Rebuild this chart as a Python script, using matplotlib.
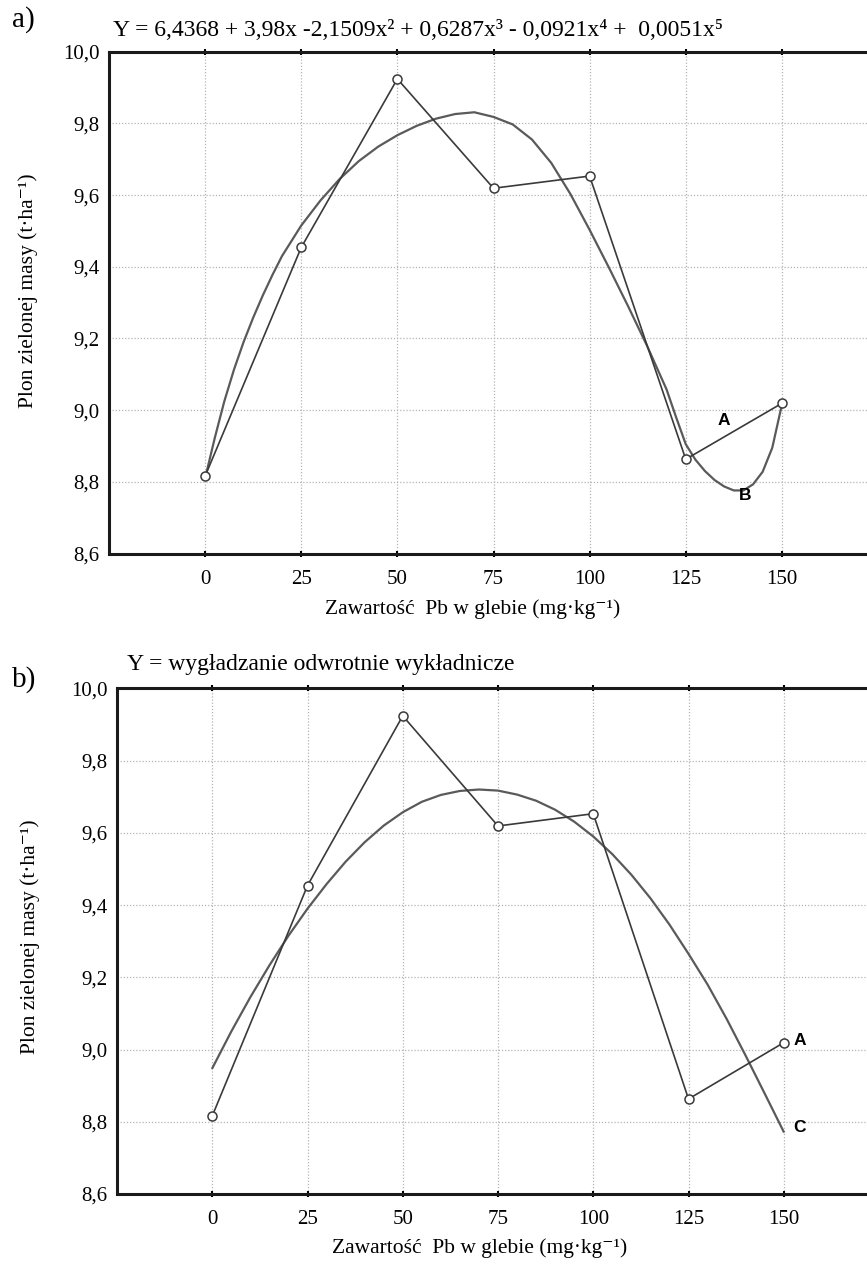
import matplotlib
matplotlib.use("Agg")
import matplotlib.pyplot as plt

plt.rcParams["font.family"] = ["Liberation Serif", "DejaVu Serif"]

# Pb content in soil (mg/kg) and green mass yield (t/ha)
pb = [0, 25, 50, 75, 100, 125, 150]
plon = [8.816, 9.454, 9.924, 9.619, 9.653, 8.863, 9.019]

# 5th order polynomial fit (panel a), sampled along the Pb axis
poly_x = [0, 2.5, 5, 7.5, 10, 12.5, 15, 17.5, 20, 25, 30, 35, 40, 45, 50, 55,
          60, 65, 70, 75, 80, 85, 90, 95, 100, 105, 110, 115, 120, 122.5, 125,
          127.5, 130, 132.5, 135, 137.5, 140, 142.5, 145, 147.5, 150]
poly_y = [8.81, 8.922, 9.025, 9.113, 9.19, 9.258, 9.32, 9.377, 9.43, 9.515,
          9.585, 9.645, 9.695, 9.735, 9.767, 9.793, 9.813, 9.826, 9.831, 9.818,
          9.797, 9.755, 9.69, 9.603, 9.503, 9.398, 9.29, 9.178, 9.058, 8.98,
          8.905, 8.862, 8.83, 8.805, 8.787, 8.776, 8.776, 8.793, 8.828, 8.895,
          9.015]

# negative exponential smoothing (panel b)
smooth_x = [0, 5, 10, 15, 20, 25, 30, 35, 40, 45, 50, 55, 60, 65, 70, 75, 80,
            85, 90, 95, 100, 105, 110, 115, 120, 125, 130, 135, 140, 145, 150]
smooth_y = [8.948, 9.05, 9.145, 9.233, 9.315, 9.39, 9.458, 9.52, 9.574, 9.62,
            9.657, 9.686, 9.705, 9.716, 9.72, 9.717, 9.706, 9.689, 9.664, 9.631,
            9.59, 9.541, 9.484, 9.419, 9.346, 9.265, 9.18, 9.085, 8.983, 8.878,
            8.772]

x_ticks = [0, 25, 50, 75, 100, 125, 150]
y_ticks = [8.6, 8.8, 9.0, 9.2, 9.4, 9.6, 9.8, 10.0]
y_tick_labels = ["8,6", "8,8", "9,0", "9,2", "9,4", "9,6", "9,8", "10,0"]

LINE_COLOR = "#3a3a3a"
CURVE_COLOR = "#5a5a5a"
TICK_FS = 15
LABEL_FS = 15.5
TITLE_FS = 17

YLABEL = "Plon zielonej masy (t·ha⁻¹)"
XLABEL = "Zawartość  Pb w glebie (mg·kg⁻¹)"


def style_axes(ax):
    ax.set_xlim(-25, 175)
    ax.set_ylim(8.6, 10.0)
    ax.set_xticks(x_ticks)
    ax.set_xticklabels([str(t) for t in x_ticks], fontsize=TICK_FS)
    ax.set_yticks(y_ticks)
    ax.set_yticklabels(y_tick_labels, fontsize=TICK_FS)
    ax.grid(True, color="#b5b5b5", linestyle=(0, (1, 1.5)), linewidth=0.9)
    ax.set_axisbelow(True)
    for side in ("left", "top", "bottom"):
        ax.spines[side].set_linewidth(2.2)
        ax.spines[side].set_color("#1a1a1a")
    ax.spines["right"].set_visible(False)
    ax.tick_params(axis="x", direction="inout", length=5, width=1.5, pad=9,
                   top=True, labeltop=False)
    ax.tick_params(axis="y", length=0, pad=7)


def draw_curve(ax, xs, ys):
    ax.plot(xs, ys, color=CURVE_COLOR, lw=1.6, zorder=2,
            solid_joinstyle="round", solid_capstyle="round")


def draw_points(ax):
    ax.plot(pb, plon, color=LINE_COLOR, lw=1.2, marker="o", ms=6.5,
            mfc="white", mec=LINE_COLOR, mew=1.1, zorder=3)


def tag(ax, x, y, s, ha="center"):
    ax.text(x, y, s, fontsize=12.5, fontweight="bold", family="Liberation Sans",
            ha=ha, va="center")


fig = plt.figure(figsize=(8.67, 12.76), dpi=100)

# ---------------------------------------------------------------- panel a
ax1 = fig.add_axes([109 / 867, 0.5662, 769 / 867, 0.3933])
style_axes(ax1)
draw_curve(ax1, poly_x, poly_y)
draw_points(ax1)
tag(ax1, 134.8, 8.972, "A")
tag(ax1, 140.5, 8.763, "B")

fig.text(12 / 867, 1 - 20 / 1276, "a)", fontsize=21, ha="left", va="center")
fig.text(113 / 867, 1 - 30 / 1276,
         "Y = 6,4368 + 3,98x -2,1509x² + 0,6287x³ - 0,0921x⁴ +  0,0051x⁵",
         fontsize=TITLE_FS, ha="left", va="center")
fig.text(28 / 867, 1 - 291 / 1276, YLABEL, fontsize=LABEL_FS, rotation=90,
         ha="center", va="center")
fig.text(473 / 867, 1 - 609 / 1276, XLABEL, fontsize=LABEL_FS,
         ha="center", va="center")

# ---------------------------------------------------------------- panel b
ax2 = fig.add_axes([117 / 867, 0.0643, 762 / 867, 0.3962])
style_axes(ax2)
draw_curve(ax2, smooth_x, smooth_y)
draw_points(ax2)
tag(ax2, 152.5, 9.026, "A", ha="left")
tag(ax2, 152.5, 8.785, "C", ha="left")

fig.text(12 / 867, 1 - 680 / 1276, "b)", fontsize=21, ha="left", va="center")
fig.text(127 / 867, 1 - 664 / 1276, "Y = wygładzanie odwrotnie wykładnicze",
         fontsize=TITLE_FS, ha="left", va="center")
fig.text(30 / 867, 1 - 937 / 1276, YLABEL, fontsize=LABEL_FS, rotation=90,
         ha="center", va="center")
fig.text(480 / 867, 1 - 1248 / 1276, XLABEL, fontsize=LABEL_FS,
         ha="center", va="center")

fig.savefig("out.png", dpi=100)
